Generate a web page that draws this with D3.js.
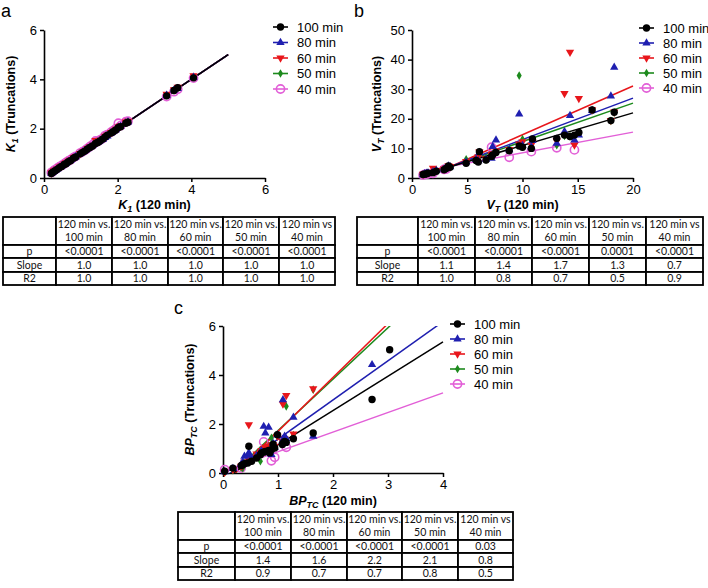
<!DOCTYPE html>
<html><head><meta charset="utf-8">
<script src="https://cdn.jsdelivr.net/npm/d3@7"></script>
<style>body{margin:0;background:#fff} svg{display:block}</style>
</head><body>
<svg id="chart" width="708" height="588"></svg>
<script>
// ---------- DATA ----------
const seriesNames = ["100 min", "80 min", "60 min", "50 min", "40 min"];

// Panel a: K1
const aX120 = [0.20,0.23,0.27,0.31,0.36,0.42,0.48,0.55,0.60,0.66,0.72,0.80,0.86,0.98,1.05,1.12,1.18,1.25,1.32,1.40,1.46,1.52,1.60,1.66,1.72,1.82,1.88,1.95,2.02,2.08,2.22,2.28,3.33,3.53,3.63,4.06];
const aY100 = [0.18,0.22,0.26,0.30,0.35,0.42,0.47,0.55,0.58,0.66,0.70,0.80,0.85,0.98,1.04,1.10,1.18,1.24,1.30,1.40,1.44,1.50,1.58,1.66,1.74,1.82,1.88,1.95,2.05,2.08,2.22,2.26,3.33,3.55,3.66,4.06];
const aY80  = [0.19,0.23,0.27,0.31,0.36,0.43,0.48,0.55,0.59,0.66,0.71,0.80,0.86,0.98,1.05,1.11,1.18,1.25,1.31,1.41,1.45,1.51,1.57,1.64,1.70,1.82,1.88,1.95,2.04,2.09,2.23,2.27,3.35,3.56,3.62,4.08];
const aY60  = [0.21,0.24,0.30,0.33,0.38,0.45,0.50,0.57,0.62,0.68,0.73,0.82,0.88,1.00,1.06,1.12,1.20,1.27,1.33,1.52,1.48,1.53,1.60,1.70,1.75,1.85,1.90,1.98,2.07,2.12,2.27,2.30,3.40,3.58,3.68,4.15];
const aY50  = [0.19,0.23,0.27,0.31,0.36,0.42,0.48,0.55,0.60,0.66,0.72,0.80,0.86,0.98,1.05,1.11,1.18,1.25,1.32,1.42,1.46,1.52,1.59,1.67,1.73,1.83,1.89,1.96,2.06,2.09,2.24,2.28,3.36,3.56,3.64,4.10];
const aY40  = [0.22,0.25,0.31,0.34,0.40,0.46,0.51,0.58,0.63,0.69,0.74,0.83,0.88,1.01,1.07,1.13,1.20,1.28,1.35,1.50,1.48,1.54,1.61,1.72,1.76,1.86,1.92,2.00,2.22,2.12,2.28,2.30,3.30,3.50,3.60,4.05];
const aSlopes = [1.0, 1.0, 1.0, 1.0, 1.0];
const aIntercepts = [0, 0, 0, 0, 0];
const aFitRange = [0.2, 5.0];
const aTicksX = [0, 2, 4, 6];
const aTicksY = [0, 2, 4, 6];
const aTableP = ["<0.0001", "<0.0001", "<0.0001", "<0.0001", "<0.0001"];
const aTableSlope = ["1.0", "1.0", "1.0", "1.0", "1.0"];
const aTableR2 = ["1.0", "1.0", "1.0", "1.0", "1.0"];

// Panel b: VT
const bX120 = [1.0,1.15,1.3,1.45,1.9,2.2,2.9,3.1,3.3,3.45,4.9,5.8,6.0,6.1,6.7,7.2,7.3,7.6,8.8,9.7,10.0,10.8,10.9,13.1,13.8,14.3,14.7,15.1,16.3,18.0,18.3];
const bY100 = [1.2,1.3,1.4,1.6,1.8,2.3,2.8,3.2,4.1,3.6,5.0,5.9,5.4,8.9,6.1,7.3,7.8,8.6,9.2,10.8,10.4,10.0,13.2,13.4,14.5,14.0,14.5,15.4,23.0,19.4,22.2];
const bY80  = [1.1,1.4,1.6,1.7,2.1,2.5,3.0,3.4,4.0,3.8,5.4,6.2,5.8,8.6,6.3,6.6,10.6,12.8,9.5,21.6,11.0,10.5,12.6,11.7,15.7,21.1,12.8,14.5,22.8,27.7,37.4];
const bY60  = [1.3,1.5,1.6,1.8,3.3,2.6,3.1,3.5,4.2,3.9,5.6,6.6,7.2,8.8,6.5,8.0,8.2,9.2,9.7,11.5,12.3,11.2,12.2,12.5,28.6,42.5,11.2,26.9,23.1,19.5,22.3];
const bY50  = [1.2,1.4,1.5,1.7,2.0,2.4,3.0,3.3,4.0,3.7,6.3,6.2,6.0,8.7,6.2,7.6,8.0,8.8,9.4,34.6,13.1,10.6,12.8,11.1,14.2,14.1,14.0,15.2,22.9,19.3,22.1];
const bY40  = [1.0,1.2,1.3,1.4,1.6,null,2.9,3.0,null,null,null,null,null,null,null,10.4,null,null,7.0,null,null,8.9,null,10.2,null,null,9.5,null,null,null,null];
const bSlopes = [1.1, 1.4, 1.65, 1.3, 0.7];
const bIntercepts = [0.0, -1.0, -1.9, -0.7, 1.5];
const bFitRange = [1.2, 20];
const bTicksX = [0, 5, 10, 15, 20];
const bTicksY = [0, 10, 20, 30, 40, 50];
const bTableP = ["<0.0001", "<0.0001", "<0.0001", "0.0001", "<0.0001"];
const bTableSlope = ["1.1", "1.4", "1.7", "1.3", "0.7"];
const bTableR2 = ["1.0", "0.8", "0.7", "0.5", "0.9"];

// Panel c: BPTC
const cX120 = [0.03,0.18,0.33,0.36,0.39,0.45,0.47,0.52,0.61,0.68,0.70,0.74,0.77,0.83,0.85,0.88,0.91,0.94,0.99,1.08,1.09,1.12,1.15,1.28,1.64,2.71,3.03];
const cY100 = [0.07,0.20,0.30,0.34,0.38,0.41,1.09,0.48,0.61,0.75,0.82,0.85,0.88,0.92,0.82,0.95,1.18,1.02,1.56,1.16,1.22,1.29,1.25,1.40,1.63,3.00,5.03];
const cY80  = [0.05,0.18,0.35,0.45,0.68,0.72,0.82,0.60,0.70,0.85,0.90,1.90,1.63,1.86,0.85,0.75,1.20,1.05,1.55,1.30,2.99,1.50,1.40,2.27,1.50,4.42,null];
const cY60  = [0.03,0.15,0.28,0.32,0.45,0.62,1.97,0.55,0.78,0.85,0.92,1.00,1.05,1.10,0.95,1.15,1.16,1.10,1.50,1.30,2.82,1.40,3.17,1.60,3.44,null,null];
const cY50  = [0.03,0.12,0.22,0.20,0.40,0.55,0.75,0.50,0.66,0.48,0.90,0.95,1.00,1.10,0.90,1.43,1.20,1.05,1.50,1.25,2.85,1.35,2.72,1.55,3.40,null,null];
const cY40  = [0.14,null,0.20,null,null,null,null,null,null,null,null,1.27,null,null,null,0.50,null,0.64,null,null,null,null,1.05,null,null,null,null];
const cSlopes = [1.4, 1.6, 2.2, 2.1, 0.8];
const cIntercepts = [-0.25, -0.22, -0.5, -0.37, 0.07];
const cFitRange = [0.03, 4.0];
const cTicksX = [0, 1, 2, 3, 4];
const cTicksY = [0, 2, 4, 6];
const cTableP = ["<0.0001", "<0.0001", "<0.0001", "<0.0001", "0.03"];
const cTableSlope = ["1.4", "1.6", "2.2", "2.1", "0.8"];
const cTableR2 = ["0.9", "0.7", "0.7", "0.8", "0.5"];

// Table labels
const tableHeadTop = ["120 min vs.", "120 min vs.", "120 min vs.", "120 min vs.", "120 min vs"];
const tableHeadBottom = ["100 min", "80 min", "60 min", "50 min", "40 min"];
const tableRowLabels = ["p", "Slope", "R2"];

// ---------- DRAWING ----------
const svg = d3.select("#chart");
const FONT = "'Liberation Sans', Arial, sans-serif";
const TFONT = "Lato, 'Open Sans', sans-serif";
const colors = ["#000000", "#1f1fb0", "#e8161b", "#1d8a1d", "#e25fd7"];

function drawMarker(sel, i, px, py) {
  if (i === 0) {
    sel.append("circle").attr("cx", px).attr("cy", py).attr("r", 3.7).attr("fill", colors[0]);
  } else if (i === 1) {
    sel.append("path").attr("d", d3.symbol(d3.symbolTriangle, 30)())
      .attr("transform", `translate(${px},${py})`).attr("fill", colors[1]);
  } else if (i === 2) {
    sel.append("path").attr("d", d3.symbol(d3.symbolTriangle, 30)())
      .attr("transform", `translate(${px},${py}) rotate(180)`).attr("fill", colors[2]);
  } else if (i === 3) {
    sel.append("path").attr("d", d3.symbol(d3.symbolDiamond, 22)())
      .attr("transform", `translate(${px},${py})`).attr("fill", colors[3]);
  } else {
    sel.append("circle").attr("cx", px).attr("cy", py).attr("r", 4.1)
      .attr("fill", "none").attr("stroke", colors[4]).attr("stroke-width", 1.6);
  }
}

function axisTitle(g, x, y, main, sub, rest, rotate) {
  const t = g.append("text").attr("text-anchor", "middle").attr("font-family", FONT)
    .attr("font-weight", "bold").attr("font-size", 12.5).attr("fill", "#000")
    .attr("transform", rotate ? `translate(${x},${y}) rotate(-90)` : `translate(${x},${y})`);
  t.append("tspan").attr("font-style", "italic").text(main);
  t.append("tspan").attr("font-style", "italic").attr("font-size", 9).attr("dy", 3).text(sub);
  t.append("tspan").attr("dy", -3).text(rest);
}

function drawPanel(cfg) {
  const g = svg.append("g");
  const x = d3.scaleLinear().domain(cfg.xDomain).range([cfg.left, cfg.right]);
  const y = d3.scaleLinear().domain(cfg.yDomain).range([cfg.bottom, cfg.top]);
  const clipId = "clip" + cfg.id;
  svg.append("clipPath").attr("id", clipId).append("rect")
    .attr("x", cfg.left).attr("y", cfg.top)
    .attr("width", cfg.right - cfg.left + 20).attr("height", cfg.bottom - cfg.top);

  // regression lines
  const lg = g.append("g").attr("clip-path", `url(#${clipId})`);
  for (let i = 4; i >= 0; i--) {
    const [x0, x1] = cfg.fitRange;
    lg.append("line")
      .attr("x1", x(x0)).attr("y1", y(cfg.slopes[i] * x0 + cfg.intercepts[i]))
      .attr("x2", x(x1)).attr("y2", y(cfg.slopes[i] * x1 + cfg.intercepts[i]))
      .attr("stroke", colors[i]).attr("stroke-width", 1.5);
  }

  // axes
  const xa = g.append("g").attr("transform", `translate(0,${cfg.bottom})`)
    .call(d3.axisBottom(x).tickValues(cfg.xTicks).tickSize(4).tickSizeOuter(0).tickPadding(3).tickFormat(d3.format("d")));
  const ya = g.append("g").attr("transform", `translate(${cfg.left},0)`)
    .call(d3.axisLeft(y).tickValues(cfg.yTicks).tickSize(4).tickSizeOuter(0).tickPadding(3).tickFormat(d3.format("d")));
  [xa, ya].forEach(a => {
    a.select(".domain").attr("stroke", "#000").attr("stroke-width", 1.6);
    a.selectAll(".tick line").attr("stroke", "#000").attr("stroke-width", 1.5);
    a.selectAll(".tick text").attr("font-family", FONT).attr("font-size", 13).attr("fill", "#000");
  });

  // points
  const pg = g.append("g");
  for (let i = 4; i >= 0; i--) {
    cfg.xs.forEach((xv, j) => {
      const yv = cfg.ys[i][j];
      if (yv === null || yv === undefined) return;
      drawMarker(pg, i, x(xv), y(yv));
    });
  }

  // titles
  axisTitle(g, (cfg.left + cfg.right) / 2, cfg.xTitleY, cfg.titleMain, cfg.titleSub, " (120 min)", false);
  axisTitle(g, cfg.yTitleX, (cfg.top + cfg.bottom) / 2, cfg.titleMain, cfg.titleSub, " (Truncations)", true);

  // legend
  const leg = g.append("g");
  seriesNames.forEach((name, i) => {
    const ly = cfg.legY + i * cfg.legStep;
    leg.append("line").attr("x1", cfg.legX).attr("x2", cfg.legX + 15).attr("y1", ly).attr("y2", ly)
      .attr("stroke", colors[i]).attr("stroke-width", 1.6);
    drawMarker(leg, i, cfg.legX + 7.5, ly);
    leg.append("text").attr("x", cfg.legX + 24).attr("y", ly).attr("dy", "0.36em")
      .attr("font-family", FONT).attr("font-size", 13).attr("fill", "#000").text(name);
  });

  // panel label
  g.append("text").attr("x", cfg.labelX).attr("y", cfg.labelY).attr("font-family", FONT)
    .attr("font-size", 18).attr("fill", "#000").text(cfg.label);
}

function drawTable(cfg, pVals, slopeVals, r2Vals) {
  const g = svg.append("g");
  const cols = cfg.cols, rows = cfg.rows;
  for (let r = 0; r < rows.length - 1; r++) {
    for (let c = 0; c < cols.length - 1; c++) {
      g.append("rect").attr("x", cols[c]).attr("y", rows[r])
        .attr("width", cols[c + 1] - cols[c]).attr("height", rows[r + 1] - rows[r])
        .attr("fill", "#fff").attr("stroke", "#000").attr("stroke-width", 1.8);
    }
  }
  const txt = (x, y, s) => g.append("text").attr("x", x).attr("y", y).attr("dy", "0.35em")
    .attr("text-anchor", "middle").attr("font-family", TFONT).attr("font-size", 10.5)
    .attr("fill", "#111").text(s);
  const cx = c => (cols[c] + cols[c + 1]) / 2;
  const cy = r => (rows[r] + rows[r + 1]) / 2;
  for (let k = 0; k < 5; k++) {
    const hTop = rows[0], hBot = rows[1];
    txt(cx(k + 1), hTop + (hBot - hTop) * 0.26, tableHeadTop[k]);
    txt(cx(k + 1), hTop + (hBot - hTop) * 0.73, tableHeadBottom[k]);
  }
  const data = [pVals, slopeVals, r2Vals];
  data.forEach((row, r) => {
    txt(cx(0), cy(r + 1), tableRowLabels[r]);
    row.forEach((v, k) => txt(cx(k + 1), cy(r + 1), v));
  });
}

drawPanel({
  id: "a", label: "a", labelX: 1, labelY: 17,
  left: 44, right: 265, top: 30, bottom: 178, xDomain: [0, 6], yDomain: [0, 6],
  xTicks: aTicksX, yTicks: aTicksY, xs: aX120, ys: [aY100, aY80, aY60, aY50, aY40],
  slopes: aSlopes, intercepts: aIntercepts, fitRange: aFitRange,
  titleMain: "K", titleSub: "1", xTitleY: 209, yTitleX: 15,
  legX: 273, legY: 27, legStep: 15.5
});
drawPanel({
  id: "b", label: "b", labelX: 354, labelY: 17,
  left: 412, right: 633, top: 30, bottom: 178, xDomain: [0, 20], yDomain: [0, 50],
  xTicks: bTicksX, yTicks: bTicksY, xs: bX120, ys: [bY100, bY80, bY60, bY50, bY40],
  slopes: bSlopes, intercepts: bIntercepts, fitRange: bFitRange,
  titleMain: "V", titleSub: "T", xTitleY: 209, yTitleX: 381,
  legX: 639, legY: 28, legStep: 15
});
drawPanel({
  id: "c", label: "c", labelX: 174, labelY: 314,
  left: 223, right: 443, top: 326, bottom: 473, xDomain: [0, 4], yDomain: [0, 6],
  xTicks: cTicksX, yTicks: cTicksY, xs: cX120, ys: [cY100, cY80, cY60, cY50, cY40],
  slopes: cSlopes, intercepts: cIntercepts, fitRange: cFitRange,
  titleMain: "BP", titleSub: "TC", xTitleY: 505, yTitleX: 194,
  legX: 450, legY: 324, legStep: 15
});

drawTable({ cols: [3, 56, 112, 168, 223, 279, 335], rows: [217, 245, 258, 272, 285] }, aTableP, aTableSlope, aTableR2);
drawTable({ cols: [357, 418, 475, 532, 589, 646, 703], rows: [217, 245, 258, 272, 285] }, bTableP, bTableSlope, bTableR2);
drawTable({ cols: [178, 235, 291, 347, 402, 458, 513], rows: [512, 540, 553, 567, 580] }, cTableP, cTableSlope, cTableR2);
</script>
</body></html>
